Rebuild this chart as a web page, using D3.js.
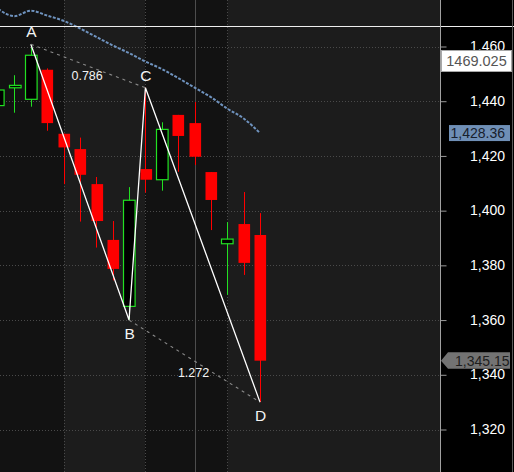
<!DOCTYPE html>
<html>
<head>
<meta charset="utf-8">
<script src="https://cdn.jsdelivr.net/npm/d3@7/dist/d3.min.js"></script>
<style>
  html, body { margin: 0; padding: 0; background: #000; overflow: hidden; }
  svg { display: block; font-family: "Liberation Sans", Arial, sans-serif; }
</style>
</head>
<body>
<svg id="chart" width="514" height="472"></svg>
<script>
// Daily sessions (index), OHLC and 20-period moving average
const sessions = [0, 1, 2, 3, 4, 5, 6, 7, 8, 9, 10, 11, 12, 13, 14, 15, 16];
const opens  = [1438.4, 1444.9, 1440.7, 1451.5, 1428.1, 1422.5, 1409.7, 1389.3, 1365.0, 1415.2, 1411.3, 1435.0, 1432.0, 1414.1, 1387.9, 1395.1, 1391.1];
const highs  = [1446.0, 1449.5, 1460.8, 1452.0, 1428.1, 1426.7, 1412.3, 1396.2, 1408.6, 1444.9, 1432.3, 1435.0, 1439.7, 1414.1, 1395.8, 1406.8, 1399.1];
const lows   = [1436.0, 1435.8, 1438.0, 1429.2, 1409.7, 1396.0, 1386.5, 1374.5, 1360.0, 1406.6, 1407.3, 1414.2, 1416.7, 1392.9, 1369.2, 1376.5, 1330.0];
const closes = [1444.1, 1445.8, 1456.8, 1432.0, 1423.1, 1413.1, 1396.2, 1378.7, 1403.8, 1411.3, 1429.7, 1427.3, 1419.7, 1403.9, 1389.6, 1380.9, 1345.15];
const movingAvg = [1473.7, 1471.1, 1473.1, 1471.3, 1469.4, 1466.6, 1463.5, 1460.4, 1457.6, 1454.5, 1451.8, 1448.5, 1445.0, 1441.5, 1437.3, 1433.7, 1428.36];

// Price axis ticks
const priceTicks = [1320, 1340, 1360, 1380, 1400, 1420, 1440, 1460];

// Week starts (shaded bands + dotted verticals) and month start (solid vertical)
const weekStarts = [4, 9, 14];
const monthStarts = [12];

// ABCD harmonic pattern pivots and ratios
const pivotLabels = ["A", "B", "C", "D"];
const pivotSessions = [2, 8, 9, 16];
const pivotPrices = [1460.8, 1360.0, 1444.9, 1330.0];
const ratioLabels = ["0.786", "1.272"];

// Horizontal marker level and crosshair readout
const markerLevel = 1467.4;
const readoutText = "1469.025";

const W = 514, H = 472, plotRight = 440.5;
const svg = d3.select("#chart");

const x = d3.scaleLinear().domain([0, 16]).range([-1.9, 260]);
const y = d3.scaleLinear().domain([1320, 1460]).range([429.5, 46.5]);
const bodyW = 11.6;

const fmt = d3.format(",");
const fmt2 = d3.format(",.2f");

// Plot background with alternating weekly bands
const bandEdges = [0, ...weekStarts.map(d => x(d)), plotRight];
svg.append("rect").attr("x", 0).attr("y", 0).attr("width", W).attr("height", H).attr("fill", "#000");
svg.selectAll("rect.band").data(d3.pairs(bandEdges)).join("rect")
  .attr("class", "band")
  .attr("x", d => d[0]).attr("y", 0)
  .attr("width", d => d[1] - d[0]).attr("height", H)
  .attr("fill", (d, i) => i % 2 === 0 ? "#121212" : "#1c1c1c");

const plot = svg.append("g");
plot.append("clipPath").attr("id", "clip").append("rect")
  .attr("x", 0).attr("y", 0).attr("width", plotRight).attr("height", H);
plot.attr("clip-path", "url(#clip)");

// Grid lines
plot.selectAll("line.hgrid").data(priceTicks).join("line")
  .attr("x1", 0).attr("x2", plotRight)
  .attr("y1", d => Math.round(y(d)) + 0.5).attr("y2", d => Math.round(y(d)) + 0.5)
  .attr("stroke", "#4a4a4a").attr("stroke-dasharray", "1,2");
plot.selectAll("line.vgrid").data(weekStarts).join("line")
  .attr("x1", d => Math.round(x(d)) + 0.5).attr("x2", d => Math.round(x(d)) + 0.5)
  .attr("y1", 0).attr("y2", H)
  .attr("stroke", "#4a4a4a").attr("stroke-dasharray", "1,2");
plot.selectAll("line.month").data(monthStarts).join("line")
  .attr("x1", d => Math.round(x(d)) + 0.5).attr("x2", d => Math.round(x(d)) + 0.5)
  .attr("y1", 0).attr("y2", H)
  .attr("stroke", "#4d4d4d");

// Moving average
const ma = sessions.map((s, i) => [x(s), y(movingAvg[i])]);
plot.append("path")
  .attr("d", d3.line().curve(d3.curveMonotoneX)(ma))
  .attr("fill", "none").attr("stroke", "#6f93bf")
  .attr("stroke-width", 2).attr("stroke-dasharray", "3,1.5");

// Candles
const candles = sessions.map((s, i) => ({
  s, o: opens[i], h: highs[i], l: lows[i], c: closes[i], up: closes[i] >= opens[i]
}));
const green = "#22e022", red = "#ff0000";
const cg = plot.selectAll("g.candle").data(candles).join("g").attr("class", "candle");
cg.append("line")
  .attr("x1", d => Math.round(x(d.s)) + 0.5).attr("x2", d => Math.round(x(d.s)) + 0.5)
  .attr("y1", d => y(d.h)).attr("y2", d => y(d.l))
  .attr("stroke", d => d.up ? green : red).attr("stroke-width", 1);
cg.append("rect")
  .attr("x", d => Math.round(x(d.s) - bodyW / 2) + 0.5)
  .attr("y", d => y(Math.max(d.o, d.c)))
  .attr("width", bodyW)
  .attr("height", d => Math.max(1, Math.abs(y(d.o) - y(d.c))))
  .attr("fill", d => d.up ? "#000" : red)
  .attr("stroke", d => d.up ? green : red)
  .attr("stroke-width", d => d.up ? 1.2 : 0);

// ABCD pattern
const pts = pivotSessions.map((s, i) => ({ label: pivotLabels[i], px: x(s), py: y(pivotPrices[i]) }));
plot.append("path")
  .attr("d", d3.line()(pts.map(p => [p.px, p.py])))
  .attr("fill", "none").attr("stroke", "#fff").attr("stroke-width", 1.3);

// Dashed retracement / extension legs A-C and B-D
const legs = [[pts[0], pts[2]], [pts[1], pts[3]]];
plot.selectAll("line.leg").data(legs).join("line")
  .attr("x1", d => d[0].px).attr("y1", d => d[0].py)
  .attr("x2", d => d[1].px).attr("y2", d => d[1].py)
  .attr("stroke", "#8a8a8a").attr("stroke-width", 1.1).attr("stroke-dasharray", "3,4");

plot.selectAll("text.ratio").data(legs).join("text")
  .attr("x", d => (d[0].px + d[1].px) / 2 - 1)
  .attr("y", (d, i) => (d[0].py + d[1].py) / 2 + (i === 0 ? 10 : 12))
  .attr("dy", "0.35em").attr("text-anchor", "middle")
  .attr("fill", "#f2f2f2").attr("font-size", 12.5)
  .text((d, i) => ratioLabels[i]);

// Right price axis panel
svg.append("rect").attr("x", plotRight + 0.5).attr("y", 0)
  .attr("width", W - plotRight).attr("height", H).attr("fill", "#000");

// Horizontal marker line across plot and axis
svg.append("line")
  .attr("x1", 0).attr("x2", W)
  .attr("y1", Math.round(y(markerLevel)) + 0.5).attr("y2", Math.round(y(markerLevel)) + 0.5)
  .attr("stroke", "#eeeeee").attr("stroke-width", 1.2);

// Pivot letters
svg.selectAll("text.pivot").data(pts).join("text")
  .attr("x", d => d.px + 0.5)
  .attr("y", (d, i) => d.py + (i % 2 === 0 ? -12.5 : 13))
  .attr("dy", "0.36em").attr("text-anchor", "middle")
  .attr("fill", "#f4f4f4").attr("font-size", 15.5)
  .text(d => d.label);

const axis = svg.append("g")
  .attr("transform", `translate(${plotRight},0)`)
  .call(d3.axisRight(y).tickValues(priceTicks).tickFormat(fmt).tickSize(6).tickSizeOuter(0));
axis.select(".domain").remove();
axis.selectAll(".tick line").attr("stroke", "#9a9a9a");
axis.selectAll(".tick text")
  .attr("x", 64.5).attr("text-anchor", "end").attr("dy", "0.3em")
  .attr("fill", "#ffffff").attr("font-size", 14)
  .attr("font-family", "'Liberation Sans', Arial, sans-serif");
svg.append("line").attr("x1", plotRight).attr("x2", plotRight).attr("y1", 0).attr("y2", H)
  .attr("stroke", "#a0a0a0");
svg.append("line").attr("x1", 512.5).attr("x2", 512.5).attr("y1", 0).attr("y2", H)
  .attr("stroke", "#5a5a5a");

// Moving average tag
const maLast = movingAvg[movingAvg.length - 1];
const maY = y(maLast);
svg.append("rect").attr("x", 449).attr("y", maY - 8).attr("width", 61).attr("height", 16)
  .attr("fill", "#6f8fb6");
svg.append("text").attr("x", 450.5).attr("y", maY).attr("dy", "0.36em")
  .attr("fill", "#18202c").attr("font-size", 14).text(fmt2(maLast));

// Last price tag
const last = closes[closes.length - 1];
const ly = y(last);
svg.append("path")
  .attr("d", `M${plotRight + 0.5},${ly} L448,${ly - 8.5} L510,${ly - 8.5} L510,${ly + 8} L448,${ly + 8} Z`)
  .attr("fill", "#737373");
svg.append("text").attr("x", 455).attr("y", ly).attr("dy", "0.36em")
  .attr("fill", "#1e1e1e").attr("font-size", 14).text(fmt2(last));

// Crosshair readout
svg.append("rect").attr("x", 441.5).attr("y", 50.5).attr("width", 70).attr("height", 21)
  .attr("fill", "#ffffff").attr("stroke", "#a8a8a8");
svg.append("text").attr("x", 476.5).attr("y", 61).attr("dy", "0.36em").attr("text-anchor", "middle")
  .attr("fill", "#555555").attr("font-size", 14.5).text(readoutText);
</script>
</body>
</html>
